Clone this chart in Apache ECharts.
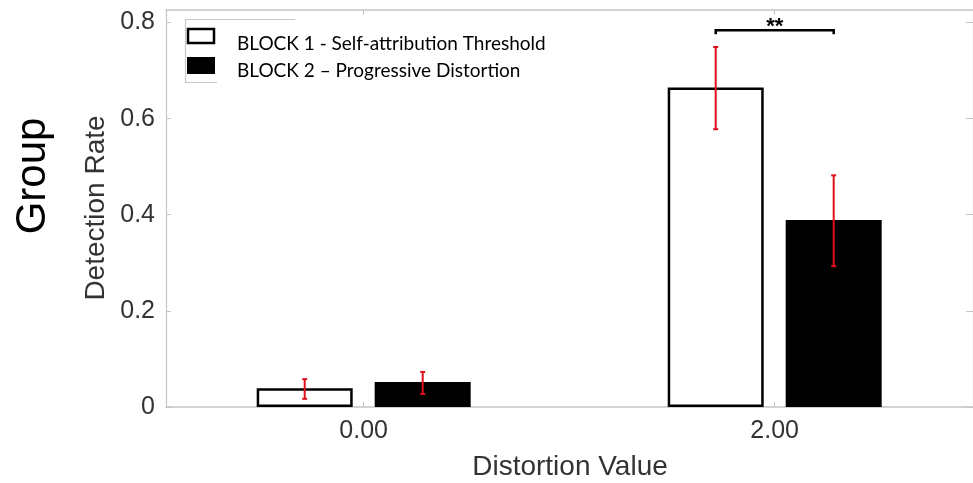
<!DOCTYPE html>
<html>
<head>
<meta charset="utf-8">
<script src="https://cdn.jsdelivr.net/npm/echarts@6/dist/echarts.min.js"></script>
<style>
  html, body { margin: 0; padding: 0; background: #fff; }
  #chart { width: 973px; height: 483px; }
</style>
</head>
<body>
<div id="chart"></div>
<script>
// Distortion levels (x positions) and their tick labels
const distortion = [0, 2];
const distortionLabels = ['0.00', '2.00'];
const yTicks = [0, 0.2, 0.4, 0.6, 0.8];

// Detection rate per block, with error-bar bounds
const seriesNames = ['BLOCK 1 - Self-attribution Threshold', 'BLOCK 2 \u2013 Progressive Distortion'];
const block1Rate = [0.039, 0.665];
const block1Low  = [0.017, 0.578];
const block1High = [0.058, 0.749];
const block2Rate = [0.052, 0.389];
const block2Low  = [0.027, 0.293];
const block2High = [0.073, 0.482];

// Significance marker between the two blocks at distortion 2
const sigX = [2];
const sigY = [0.784];
const sigText = ['**'];

const BAR_W = 96;
const BAR_GAP = 22;
const HALF_STEP = BAR_W / 2 + BAR_GAP / 2;
const X_MIN = -0.962;
const X_MAX = 2.965;

const chart = echarts.init(document.getElementById('chart'), null, { renderer: 'canvas' });

const axisColor = '#c4c4c4';
const labelColor = '#333333';
const SANS = '"Liberation Sans", Arial, sans-serif';
const LEGEND_FONT = '19px Lato, "Open Sans", sans-serif';

function errorBarSeries(low, high, offset) {
  return {
    type: 'custom',
    xAxisIndex: 0,
    yAxisIndex: 0,
    clip: false,
    z: 5,
    data: distortion.map((d, i) => [d, low[i], high[i]]),
    renderItem: function (params, api) {
      const lo = api.coord([api.value(0), api.value(1)]);
      const hi = api.coord([api.value(0), api.value(2)]);
      const x = lo[0] + offset;
      const cap = 2.5;
      const style = { stroke: '#e0101a', lineWidth: 2, fill: null };
      return {
        type: 'group',
        children: [
          { type: 'line', shape: { x1: x, y1: lo[1], x2: x, y2: hi[1] }, style: style },
          { type: 'line', shape: { x1: x - cap, y1: lo[1], x2: x + cap, y2: lo[1] }, style: style },
          { type: 'line', shape: { x1: x - cap, y1: hi[1], x2: x + cap, y2: hi[1] }, style: style }
        ]
      };
    }
  };
}

const option = {
  animation: false,
  backgroundColor: '#ffffff',
  grid: { left: 166, top: 10, right: -3, bottom: 76, containLabel: false },
  xAxis: [
    {
      type: 'value', position: 'bottom', min: X_MIN, max: X_MAX,
      splitLine: { show: false },
      axisLine: { show: true, onZero: false, lineStyle: { color: axisColor, width: 1.5 } },
      axisTick: { show: true, inside: true, length: 5, customValues: distortion, lineStyle: { color: axisColor } },
      axisLabel: {
        customValues: distortion, margin: 12, fontSize: 25, color: labelColor, fontFamily: SANS,
        formatter: function (v) { return distortionLabels[distortion.indexOf(v)]; }
      }
    },
    {
      type: 'value', position: 'top', min: X_MIN, max: X_MAX,
      splitLine: { show: false },
      axisLine: { show: true, onZero: false, lineStyle: { color: axisColor, width: 1.5 } },
      axisTick: { show: true, inside: true, length: 5, customValues: distortion, lineStyle: { color: axisColor } },
      axisLabel: { show: false }
    }
  ],
  yAxis: [
    {
      type: 'value', position: 'left', min: 0, max: 0.826,
      splitLine: { show: false },
      axisLine: { show: true, onZero: false, lineStyle: { color: axisColor, width: 1.2 } },
      axisTick: { show: true, inside: true, length: 5, customValues: yTicks, lineStyle: { color: axisColor } },
      axisLabel: {
        customValues: yTicks, margin: 11, fontSize: 25, color: labelColor, fontFamily: SANS,
        formatter: function (v) { return v === 0 ? '0' : v.toFixed(1); }
      }
    },
    {
      type: 'value', position: 'right', min: 0, max: 0.826,
      splitLine: { show: false },
      axisLine: { show: true, onZero: false, lineStyle: { color: axisColor, width: 1.2 } },
      axisTick: { show: true, inside: true, length: 7, customValues: yTicks, lineStyle: { color: axisColor } },
      axisLabel: { show: false }
    }
  ],
  series: [
    {
      name: seriesNames[0], type: 'bar', xAxisIndex: 0, yAxisIndex: 0,
      barWidth: BAR_W, barGap: (BAR_GAP / BAR_W * 100).toFixed(1) + '%',
      data: distortion.map((d, i) => [d, block1Rate[i]]),
      itemStyle: { color: '#ffffff', borderColor: '#000000', borderWidth: 2.5 }
    },
    {
      name: seriesNames[1], type: 'bar', xAxisIndex: 0, yAxisIndex: 0,
      barWidth: BAR_W,
      data: distortion.map((d, i) => [d, block2Rate[i]]),
      itemStyle: { color: '#000000' }
    },
    errorBarSeries(block1Low, block1High, -HALF_STEP),
    errorBarSeries(block2Low, block2High, HALF_STEP),
    {
      type: 'custom', xAxisIndex: 0, yAxisIndex: 0, clip: false, z: 6,
      data: sigX.map((x, i) => [x, sigY[i]]),
      renderItem: function (params, api) {
        const p = api.coord([api.value(0), api.value(1)]);
        const x1 = p[0] - HALF_STEP, x2 = p[0] + HALF_STEP, y = p[1];
        const style = { stroke: '#000', lineWidth: 2.5, fill: null };
        return {
          type: 'group',
          children: [
            { type: 'polyline', shape: { points: [[x1, y + 4], [x1, y], [x2, y], [x2, y + 4]] }, style: style },
            { type: 'text', style: { x: p[0], y: y - 3, text: sigText[params.dataIndex], fill: '#000',
              font: 'bold 22px ' + SANS, textAlign: 'center', textVerticalAlign: 'middle' } }
          ]
        };
      }
    }
  ],
  graphic: [
    // axis titles
    { type: 'text', x: 33, y: 176, rotation: Math.PI / 2,
      style: { text: 'Group', font: '42px ' + SANS, fill: '#000', textAlign: 'center', textVerticalAlign: 'middle' } },
    { type: 'text', x: 96, y: 208, rotation: Math.PI / 2,
      style: { text: 'Detection Rate', font: '28px ' + SANS, fill: labelColor, textAlign: 'center', textVerticalAlign: 'middle' } },
    { type: 'text', x: 570, y: 467,
      style: { text: 'Distortion Value', font: '28px ' + SANS, fill: labelColor, textAlign: 'center', textVerticalAlign: 'middle' } },
    // legend frame
    { type: 'polyline', shape: { points: [[295, 19.5], [185.5, 19.5], [185.5, 82.5], [217, 82.5]] },
      style: { stroke: '#c8c8c8', lineWidth: 1.2, fill: null } },
    // legend swatches
    { type: 'rect', shape: { x: 188, y: 29, width: 26, height: 14 },
      style: { fill: '#ffffff', stroke: '#000', lineWidth: 2.5 } },
    { type: 'rect', shape: { x: 187, y: 57, width: 28, height: 17 },
      style: { fill: '#000000' } },
    { type: 'text', x: 237, y: 44,
      style: { text: seriesNames[0], font: LEGEND_FONT, fill: '#000', textAlign: 'left', textVerticalAlign: 'middle' } },
    { type: 'text', x: 237, y: 71,
      style: { text: seriesNames[1], font: LEGEND_FONT, fill: '#000', textAlign: 'left', textVerticalAlign: 'middle' } }
  ]
};

chart.setOption(option);
</script>
</body>
</html>
